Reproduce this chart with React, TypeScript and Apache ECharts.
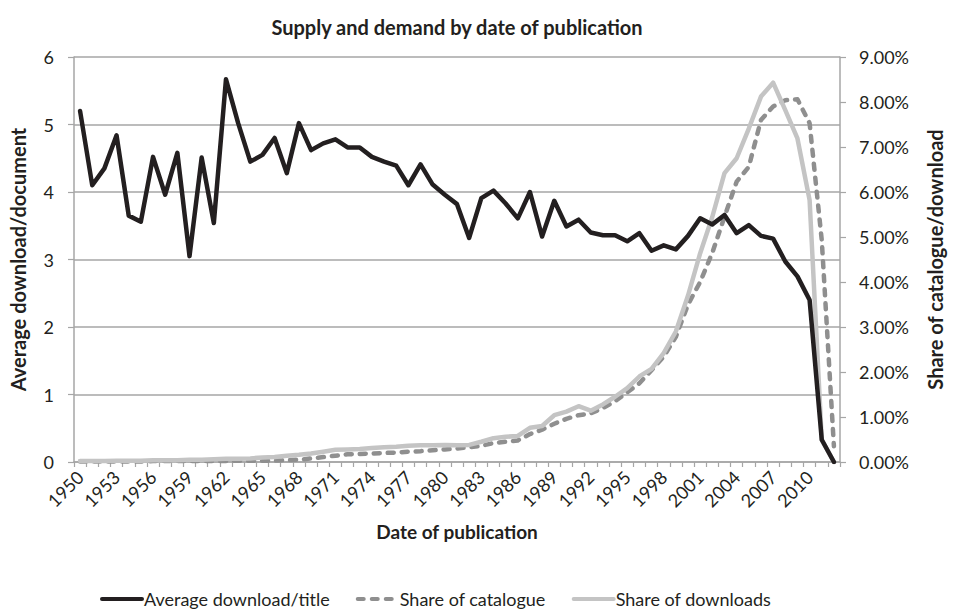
import React, { useEffect, useRef } from "react";
import * as echarts from "echarts";

const years: string[] = [];
for (let y = 1950; y <= 2012; y++) years.push(String(y));

const avgDownload = [
  5.2, 4.1, 4.35, 4.84, 3.65, 3.56, 4.52, 3.96, 4.58, 3.05,
  4.51, 3.54, 5.67, 5.02, 4.45, 4.55, 4.8, 4.28, 5.02, 4.62,
  4.72, 4.78, 4.66, 4.66, 4.52, 4.45, 4.39, 4.1, 4.41, 4.11,
  3.96, 3.82, 3.32, 3.91, 4.02, 3.83, 3.61, 4.0, 3.34, 3.87,
  3.49, 3.59, 3.4, 3.36, 3.36, 3.27, 3.39, 3.13, 3.21, 3.15,
  3.35, 3.61, 3.52, 3.66, 3.39, 3.51, 3.35, 3.31, 2.97, 2.75,
  2.4, 0.33, 0.0,
];

const shareCatalogue = [
  0.01, 0.01, 0.01, 0.01, 0.01, 0.01, 0.02, 0.02, 0.02, 0.02,
  0.02, 0.02, 0.02, 0.03, 0.03, 0.03, 0.03, 0.04, 0.05, 0.08,
  0.11, 0.14, 0.17, 0.18, 0.19, 0.2, 0.21, 0.23, 0.24, 0.26,
  0.28, 0.3, 0.33, 0.36, 0.42, 0.45, 0.48, 0.62, 0.72, 0.85,
  0.96, 1.04, 1.08, 1.2, 1.35, 1.55, 1.75, 2.04, 2.34, 2.78,
  3.5, 4.0, 4.65, 5.45, 6.23, 6.56, 7.6, 7.9, 8.04, 8.06,
  7.53, 4.93, 0.35,
];

const shareDownloads = [
  0.02, 0.02, 0.02, 0.03, 0.03, 0.03, 0.04, 0.04, 0.04, 0.05,
  0.05, 0.06, 0.07, 0.07, 0.08, 0.1, 0.11, 0.14, 0.16, 0.19,
  0.23, 0.27, 0.28, 0.29, 0.31, 0.33, 0.34, 0.36, 0.37, 0.37,
  0.38, 0.37, 0.38, 0.45, 0.53, 0.56, 0.58, 0.76, 0.8, 1.04,
  1.12, 1.24, 1.14, 1.28, 1.45, 1.64, 1.9, 2.07, 2.42, 2.9,
  3.7, 4.64, 5.45, 6.42, 6.75, 7.41, 8.12, 8.43, 7.82, 7.19,
  5.82, 0.49, 0.0,
];

const FONT = "Lato";
const TEXT = "#231f20";
const GRID = "#a6a6a6";

export default function App() {
  const ref = useRef<HTMLDivElement>(null);
  useEffect(() => {
    if (!ref.current) return;
    const chart = echarts.init(ref.current, undefined, { renderer: "svg" });
    chart.setOption({
      animation: false,
      backgroundColor: "#ffffff",
      textStyle: { fontFamily: FONT, color: TEXT },
      title: {
        text: "Supply and demand by date of publication",
        left: 452,
        textAlign: "center",
        top: 12,
        textStyle: { fontFamily: FONT, fontWeight: "bold", fontSize: 20, color: TEXT },
      },
      grid: { left: 74, right: 103, top: 57, bottom: 150, containLabel: false },
      legend: {
        bottom: 4,
        left: 100,
        padding: 0,
        itemWidth: 40,
        itemHeight: 12,
        itemGap: 26,
        itemStyle: { opacity: 0 },
        lineStyle: { width: 4 },
        textStyle: { fontFamily: FONT, fontSize: 18, color: TEXT, padding: [0, 0, 0, -3] },
        data: ["Average download/title", "Share of catalogue", "Share of downloads"],
      },
      xAxis: {
        type: "category",
        data: years,
        boundaryGap: true,
        name: "Date of publication",
        nameLocation: "middle",
        nameGap: 60,
        nameTextStyle: { fontFamily: FONT, fontWeight: "bold", fontSize: 19, color: TEXT },
        axisLine: { lineStyle: { color: GRID, width: 1.5 } },
        axisTick: { show: true, interval: 0, length: 5, lineStyle: { color: GRID, width: 1.2 } },
        axisLabel: {
          interval: 2,
          rotate: 45,
          fontFamily: FONT,
          fontSize: 18,
          color: TEXT,
          margin: 12,
        },
      },
      yAxis: [
        {
          type: "value",
          min: 0,
          max: 6,
          interval: 1,
          name: "Average download/document",
          nameLocation: "middle",
          nameGap: 46,
          nameTextStyle: { fontFamily: FONT, fontWeight: "bold", fontSize: 20, color: TEXT },
          axisLine: { show: true, lineStyle: { color: GRID, width: 1.5 } },
          axisTick: { show: true, length: 6, lineStyle: { color: GRID, width: 1.2 } },
          axisLabel: { fontFamily: FONT, fontSize: 18, color: TEXT, margin: 20 },
          splitLine: { show: true, lineStyle: { color: GRID, width: 1.5 } },
        },
        {
          type: "value",
          min: 0,
          max: 9,
          interval: 1,
          position: "right",
          name: "Share of catalogue/download",
          nameLocation: "middle",
          nameGap: 85,
          nameRotate: 90,
          nameTextStyle: { fontFamily: FONT, fontWeight: "bold", fontSize: 20, color: TEXT },
          axisLine: { show: true, lineStyle: { color: GRID, width: 1.5 } },
          axisTick: { show: true, length: 6, lineStyle: { color: GRID, width: 1.2 } },
          axisLabel: {
            fontFamily: FONT,
            fontSize: 18,
            color: TEXT,
            margin: 19,
            formatter: (v: number) => v.toFixed(2) + "%",
          },
          splitLine: { show: false },
        },
      ],
      series: [
        {
          name: "Average download/title",
          type: "line",
          yAxisIndex: 0,
          data: avgDownload,
          symbol: "none",
          lineStyle: { color: "#231f20", width: 4.5, join: "round", cap: "round" },
          itemStyle: { color: "#231f20" },
          z: 4,
        },
        {
          name: "Share of catalogue",
          type: "line",
          yAxisIndex: 1,
          data: shareCatalogue,
          symbol: "none",
          lineStyle: { color: "#8f8f8f", width: 4.5, type: [6, 8], cap: "round", join: "round" },
          itemStyle: { color: "#8f8f8f" },
          z: 2,
        },
        {
          name: "Share of downloads",
          type: "line",
          yAxisIndex: 1,
          data: shareDownloads,
          symbol: "none",
          lineStyle: { color: "#c4c4c4", width: 4.5, join: "round", cap: "round" },
          itemStyle: { color: "#c4c4c4" },
          z: 3,
        },
      ],
    });
    return () => chart.dispose();
  }, []);
  return (
    <div
      ref={ref}
      style={{ position: "fixed", left: 0, top: 0, width: 953, height: 612, background: "#fff" }}
    />
  );
}
